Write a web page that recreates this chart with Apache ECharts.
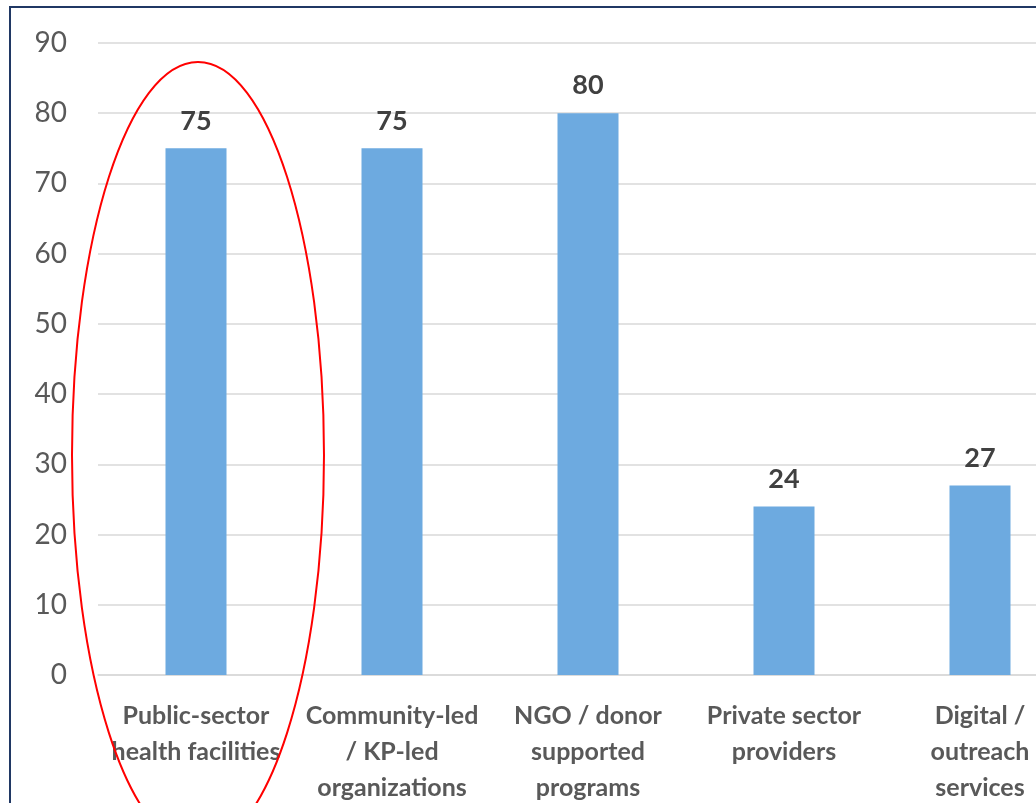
<!DOCTYPE html>
<html>
<head>
<meta charset="utf-8">
<script src="https://cdn.jsdelivr.net/npm/echarts@6/dist/echarts.min.js"></script>
<style>
html,body{margin:0;padding:0;overflow:hidden;background:#fff;}
#chart{width:1100px;height:803px;}
</style>
</head>
<body>
<div id="chart"></div>
<script>
const categories = [
  'Public-sector\nhealth facilities',
  'Community-led\n/ KP-led\norganizations',
  'NGO / donor\nsupported\nprograms',
  'Private sector\nproviders',
  'Digital /\noutreach\nservices'
];
const values = [75, 75, 80, 24, 27];
const yTicks = { min: 0, max: 90, interval: 10 };
const highlightIndex = 0;

const chart = echarts.init(document.getElementById('chart'), null, { renderer: 'canvas' });
const option = {
  animation: false,
  backgroundColor: '#ffffff',
  grid: { left: 98, right: 22, top: 43, bottom: 128, containLabel: false, outerBoundsMode: 'none' },
  xAxis: {
    type: 'category',
    data: categories,
    axisLine: { show: true, lineStyle: { color: '#D9D9D9', width: 1.5 } },
    axisTick: { show: false },
    axisLabel: {
      interval: 0,
      margin: 23,
      color: '#595959',
      fontFamily: 'Lato',
      fontWeight: 'bold',
      fontSize: 25,
      lineHeight: 36
    }
  },
  yAxis: {
    type: 'value',
    min: yTicks.min,
    max: yTicks.max,
    interval: yTicks.interval,
    axisLine: { show: false },
    axisTick: { show: false },
    splitLine: { lineStyle: { color: '#D9D9D9', width: 1.5 } },
    axisLabel: {
      margin: 31,
      color: '#595959',
      fontFamily: 'Lato',
      fontSize: 28
    }
  },
  series: [{
    type: 'bar',
    data: values,
    barWidth: 61,
    itemStyle: { color: '#6DAAE0' },
    label: {
      show: true,
      position: 'top',
      distance: 14,
      color: '#404040',
      fontFamily: 'Lato',
      fontWeight: 'bold',
      fontSize: 27
    }
  }]
};
chart.setOption(option);

const cx = chart.convertToPixel({ xAxisIndex: 0 }, categories[highlightIndex]);
const yTop = chart.convertToPixel({ yAxisIndex: 0 }, 87.3);
chart.setOption({
  graphic: [
    {
      type: 'rect',
      shape: { x: 10, y: 7, width: 1200, height: 1000 },
      style: { fill: null, stroke: '#203864', lineWidth: 2 },
      silent: true,
      z: 100
    },
    {
      type: 'ellipse',
      shape: { cx: cx + 2, cy: yTop + 393, rx: 126, ry: 393 },
      style: { fill: null, stroke: '#FF0000', lineWidth: 2 },
      silent: true,
      z: 100
    }
  ]
});
</script>
</body>
</html>
